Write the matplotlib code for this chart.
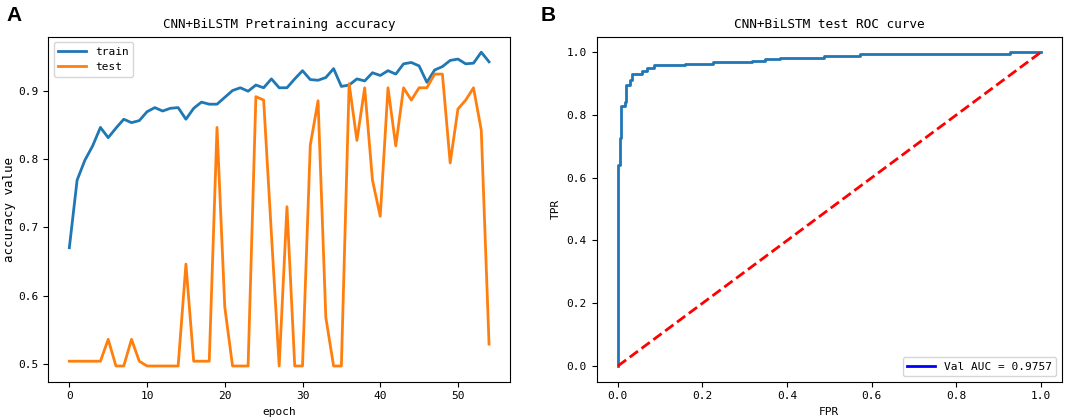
import numpy as np
import matplotlib
matplotlib.use("Agg")
import matplotlib.pyplot as plt
from matplotlib.lines import Line2D

# --- data ---
epochs = list(range(55))
train_acc = [0.670, 0.769, 0.798, 0.819, 0.846, 0.831, 0.845, 0.858, 0.853, 0.856,
             0.869, 0.875, 0.870, 0.874, 0.875, 0.858, 0.874, 0.883, 0.880, 0.880,
             0.890, 0.900, 0.904, 0.899, 0.908, 0.904, 0.917, 0.904, 0.904, 0.917,
             0.929, 0.916, 0.915, 0.919, 0.932, 0.906, 0.908, 0.917, 0.914, 0.926,
             0.922, 0.929, 0.924, 0.939, 0.941, 0.936, 0.912, 0.930, 0.935, 0.944,
             0.946, 0.939, 0.940, 0.956, 0.942]
test_acc = [0.504, 0.504, 0.504, 0.504, 0.504, 0.536, 0.497, 0.497, 0.536, 0.504,
            0.497, 0.497, 0.497, 0.497, 0.497, 0.646, 0.504, 0.504, 0.504, 0.846,
            0.583, 0.497, 0.497, 0.497, 0.891, 0.886, 0.690, 0.497, 0.730, 0.497,
            0.497, 0.820, 0.885, 0.568, 0.497, 0.497, 0.910, 0.827, 0.904, 0.769,
            0.716, 0.904, 0.819, 0.904, 0.886, 0.904, 0.904, 0.924, 0.924, 0.794,
            0.873, 0.886, 0.904, 0.842, 0.529]

fpr = [0.0, 0.0, 0.005, 0.005, 0.008, 0.008, 0.017, 0.017, 0.020, 0.020, 0.028, 0.028,
       0.034, 0.034, 0.058, 0.058, 0.069, 0.069, 0.085, 0.085, 0.158, 0.158, 0.224,
       0.224, 0.317, 0.317, 0.348, 0.348, 0.383, 0.383, 0.487, 0.487, 0.573, 0.573,
       0.926, 0.926, 1.0]
tpr = [0.0, 0.640, 0.640, 0.727, 0.727, 0.830, 0.830, 0.842, 0.842, 0.895, 0.895, 0.912,
       0.912, 0.930, 0.930, 0.940, 0.940, 0.949, 0.949, 0.958, 0.958, 0.963, 0.963,
       0.969, 0.969, 0.972, 0.972, 0.978, 0.978, 0.983, 0.983, 0.989, 0.989, 0.994,
       0.994, 1.0, 1.0]
auc_label = "Val AUC = 0.9757"

plt.rcParams['font.family'] = ['DejaVu Sans Mono']
plt.rcParams['font.size'] = 8

fig = plt.figure(figsize=(10.65, 4.2), dpi=100)
ax1 = fig.add_axes([0.0454, 0.0912, 0.4335, 0.8218])
ax2 = fig.add_axes([0.5603, 0.0912, 0.4369, 0.8218])

# left: accuracy
ax1.plot(epochs, train_acc, color='C0', lw=2, label='train')
ax1.plot(epochs, test_acc, color='C1', lw=2, label='test')
ax1.set_title("CNN+BiLSTM Pretraining accuracy", fontsize=9)
ax1.set_xlabel("epoch")
ax1.set_ylabel("accuracy value", fontsize=9, labelpad=2)
ax1.legend(loc='upper left', fontsize=8, handlelength=2.5)

# right: ROC
ax2.plot(fpr, tpr, color='C0', lw=2)
ax2.plot([0, 1], [0, 1], 'r--', lw=2)
ax2.set_title("CNN+BiLSTM test ROC curve", fontsize=9.2)
ax2.set_xlabel("FPR")
ax2.set_ylabel("TPR")
ax2.legend([Line2D([], [], color='blue', lw=2)], [auc_label], loc='lower right',
           fontsize=8, handlelength=2.5)

fig.text(0.006, 0.985, "A", fontsize=15, fontweight='bold', family='Liberation Sans', ha='left', va='top')
fig.text(0.508, 0.985, "B", fontsize=15, fontweight='bold', family='Liberation Sans', ha='left', va='top')

fig.savefig("out.png", dpi=100)
